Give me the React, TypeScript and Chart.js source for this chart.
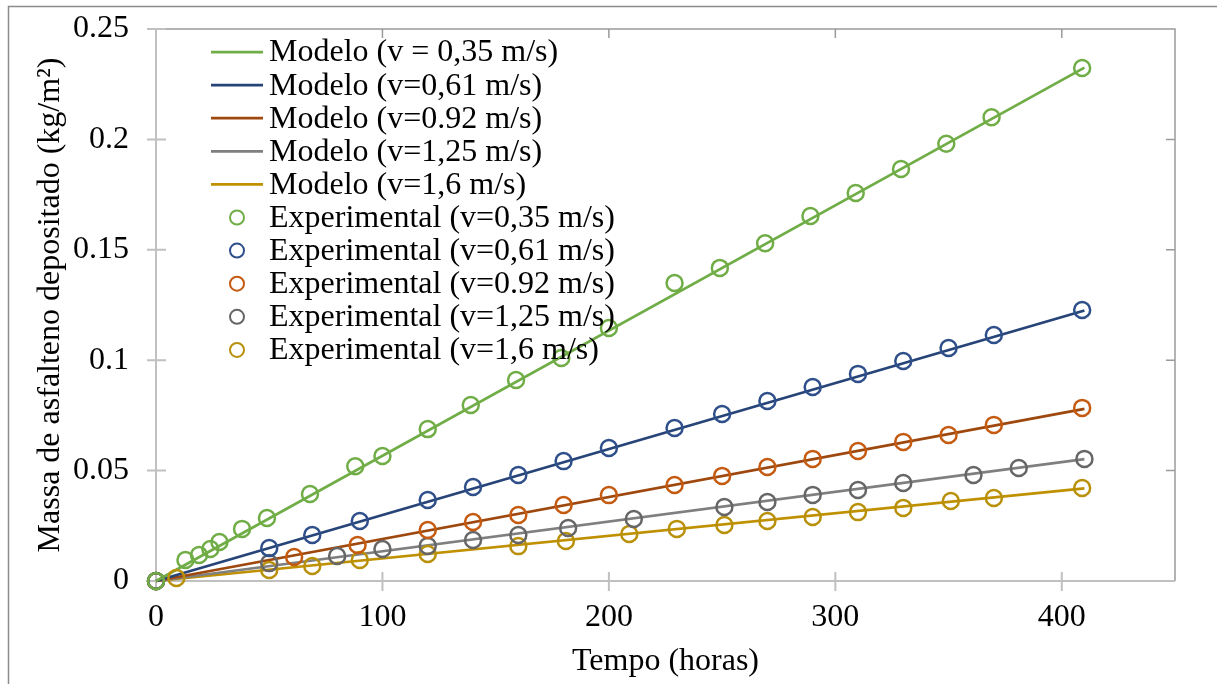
import React, { useEffect, useRef } from "react";
import { Chart, registerables } from "chart.js";

Chart.register(...registerables);

// ---- data ----
const modelX = [0, 410];
const modelGreen = [0, 0.2325];
const modelBlue = [0, 0.1225];
const modelBrown = [0, 0.078];
const modelGrey = [0, 0.0552];
const modelGold = [0, 0.042];

const expGreenX = [0, 13, 19, 24, 28, 38, 49, 68, 88, 100, 120, 139, 159, 179, 200, 229, 249, 269, 289, 309, 329, 349, 369, 409];
const expGreenY = [0, 0.0095, 0.0118, 0.0145, 0.0177, 0.0236, 0.0285, 0.0394, 0.052, 0.0566, 0.0688, 0.0797, 0.091, 0.101, 0.1146, 0.135, 0.1418, 0.153, 0.1653, 0.1757, 0.1866, 0.198, 0.21, 0.2323];

const expBlueX = [0, 50, 69, 90, 120, 140, 160, 180, 200, 229, 250, 270, 290, 310, 330, 350, 370, 409];
const expBlueY = [0, 0.0149, 0.0208, 0.0272, 0.0367, 0.0426, 0.048, 0.0543, 0.0602, 0.0693, 0.0756, 0.0815, 0.0879, 0.0938, 0.0996, 0.1055, 0.1114, 0.1227];

const expBrownX = [0, 61, 89, 120, 140, 160, 180, 200, 229, 250, 270, 290, 310, 330, 350, 370, 409];
const expBrownY = [0, 0.0109, 0.0163, 0.0231, 0.0267, 0.0299, 0.0344, 0.0389, 0.0435, 0.0476, 0.0516, 0.0553, 0.0589, 0.063, 0.0661, 0.0707, 0.0784];

const expGreyX = [0, 50, 80, 100, 120, 140, 160, 182, 211, 251, 270, 290, 310, 330, 361, 381, 410];
const expGreyY = [0, 0.0081, 0.0113, 0.0145, 0.0159, 0.0186, 0.0208, 0.024, 0.0281, 0.0335, 0.0358, 0.039, 0.0412, 0.0444, 0.048, 0.0512, 0.0553];

const expGoldX = [0, 9, 50, 69, 90, 120, 160, 181, 209, 230, 251, 270, 290, 310, 330, 351, 370, 409];
const expGoldY = [0, 0.0014, 0.005, 0.0068, 0.0095, 0.0122, 0.0158, 0.0181, 0.0213, 0.0236, 0.0254, 0.0272, 0.029, 0.0312, 0.0331, 0.0362, 0.0376, 0.0421];

const modelLabels = [
  "Modelo (v = 0,35 m/s)",
  "Modelo (v=0,61 m/s)",
  "Modelo (v=0.92 m/s)",
  "Modelo (v=1,25 m/s)",
  "Modelo (v=1,6 m/s)",
];
const expLabels = [
  "Experimental (v=0,35 m/s)",
  "Experimental (v=0,61 m/s)",
  "Experimental (v=0.92 m/s)",
  "Experimental (v=1,25 m/s)",
  "Experimental (v=1,6 m/s)",
];
const xTitle = "Tempo (horas)";
const yTitle = "Massa de asfalteno depositado (kg/m²)";

const lineColors = ["#70AD47", "#264478", "#9E480E", "#7F7F7F", "#BF9000"];
const markerColors = ["#70AD47", "#2F4F8A", "#C55A11", "#666666", "#B8900A"];

const FONT = '"Liberation Serif", "Times New Roman", serif';
const FS = 32;

const toPts = (xs: number[], ys: number[]) => xs.map((x, i) => ({ x, y: ys[i] }));

const modelSeries = [modelGreen, modelBlue, modelBrown, modelGrey, modelGold];
const expSeries: [number[], number[]][] = [
  [expGreenX, expGreenY],
  [expBlueX, expBlueY],
  [expBrownX, expBrownY],
  [expGreyX, expGreyY],
  [expGoldX, expGoldY],
];

const framePlugin = {
  id: "frameAxes",
  beforeDatasetsDraw(chart: any) {
    const { ctx, chartArea } = chart;
    const { left, right, top, bottom } = chartArea;
    const xs = chart.scales.x;
    const ys = chart.scales.y;
    ctx.save();
    // outer frame
    ctx.strokeStyle = "#8c8c8c";
    ctx.lineWidth = 1.5;
    ctx.beginPath();
    ctx.moveTo(8.5, 700);
    ctx.lineTo(8.5, 6.5);
    ctx.lineTo(1230, 6.5);
    ctx.stroke();

    // top & right borders (darker) with inward ticks
    ctx.strokeStyle = "#9a9a9a";
    ctx.lineWidth = 1.5;
    ctx.beginPath();
    ctx.moveTo(left, top);
    ctx.lineTo(right, top);
    ctx.lineTo(right, bottom);
    ctx.stroke();
    ctx.beginPath();
    xs.ticks.forEach((t: any) => {
      const px = xs.getPixelForValue(t.value);
      if (px > left + 1 && px < right - 1) {
        ctx.moveTo(px, top);
        ctx.lineTo(px, top + 9);
      }
    });
    ys.ticks.forEach((t: any) => {
      const py = ys.getPixelForValue(t.value);
      if (py > top + 1 && py < bottom - 1) {
        ctx.moveTo(right, py);
        ctx.lineTo(right - 9, py);
      }
    });
    ctx.stroke();

    // left & bottom axes (light) with cross ticks
    ctx.strokeStyle = "#c0c0c0";
    ctx.lineWidth = 2;
    ctx.beginPath();
    ctx.moveTo(left, top);
    ctx.lineTo(left, bottom);
    ctx.lineTo(right, bottom);
    ys.ticks.forEach((t: any) => {
      const py = ys.getPixelForValue(t.value);
      ctx.moveTo(left - 9, py);
      ctx.lineTo(left + 10, py);
    });
    xs.ticks.forEach((t: any) => {
      const px = xs.getPixelForValue(t.value);
      ctx.moveTo(px, bottom - 9);
      ctx.lineTo(px, bottom + 10);
    });
    ctx.stroke();

    // axis titles
    ctx.fillStyle = "#000";
    ctx.font = `${FS}px ${FONT}`;
    ctx.textAlign = "center";
    ctx.textBaseline = "middle";
    ctx.fillText(xTitle, (left + right) / 2, 662);
    ctx.translate(51, (top + bottom) / 2);
    ctx.rotate(-Math.PI / 2);
    ctx.fillText(yTitle, 0, 0);
    ctx.restore();
  },
  afterDatasetsDraw(chart: any) {
    const { ctx, chartArea } = chart;
    const x0 = chartArea.left;
    const y0 = chartArea.top + 23;
    const step = 33.1;
    ctx.save();
    ctx.font = `${FS}px ${FONT}`;
    ctx.textAlign = "left";
    ctx.textBaseline = "middle";
    chart.data.datasets.forEach((ds: any, i: number) => {
      const y = y0 + i * step;
      if (ds.showLine) {
        ctx.strokeStyle = ds.borderColor;
        ctx.lineWidth = 2.75;
        ctx.beginPath();
        ctx.moveTo(x0 + 55, y);
        ctx.lineTo(x0 + 107, y);
        ctx.stroke();
      } else {
        ctx.strokeStyle = ds.pointBorderColor;
        ctx.lineWidth = 2;
        ctx.beginPath();
        ctx.arc(x0 + 81, y, 7, 0, Math.PI * 2);
        ctx.stroke();
      }
      ctx.fillStyle = "#000";
      ctx.fillText(ds.label, x0 + 113, y + 1);
    });
    ctx.restore();
  },
};

export default function App() {
  const ref = useRef<HTMLCanvasElement | null>(null);
  useEffect(() => {
    if (!ref.current) return;
    const datasets: any[] = [];
    modelSeries.forEach((ys, i) => {
      datasets.push({
        label: modelLabels[i],
        data: toPts(modelX, ys),
        showLine: true,
        borderColor: lineColors[i],
        borderWidth: 2.75,
        pointRadius: 0,
        fill: false,
        order: 1,
        clip: false,
      });
    });
    expSeries.forEach(([xs, ys], i) => {
      datasets.push({
        label: expLabels[i],
        data: toPts(xs, ys),
        showLine: false,
        pointRadius: 8,
        pointBorderWidth: 2.5,
        pointBorderColor: markerColors[i],
        pointBackgroundColor: "rgba(0,0,0,0)",
        borderColor: markerColors[i],
        order: 0,
        clip: false,
      });
    });
    const chart = new Chart(ref.current, {
      type: "scatter",
      data: { datasets },
      options: {
        animation: false,
        responsive: false,
        devicePixelRatio: 1,
        layout: { padding: { left: 0, top: 29, right: 42, bottom: 0 } },
        plugins: { legend: { display: false }, tooltip: { enabled: false } },
        scales: {
          x: {
            type: "linear",
            min: 0,
            max: 450,
            grid: { display: false, drawTicks: false },
            border: { display: false },
            ticks: {
              stepSize: 100,
              includeBounds: false,
              color: "#000",
              padding: 17,
              font: { family: FONT, size: FS },
            },
            afterFit: (s: any) => {
              s.height = 103;
              s.paddingLeft = 0;
              s.paddingRight = 0;
            },
          },
          y: {
            type: "linear",
            min: 0,
            max: 0.25,
            grid: { display: false, drawTicks: false },
            border: { display: false },
            ticks: {
              stepSize: 0.05,
              color: "#000",
              padding: 27,
              font: { family: FONT, size: FS },
              callback: (v: any) => String(Number(Number(v).toFixed(2))),
            },
            afterFit: (s: any) => {
              s.width = 156;
              s.paddingTop = 0;
              s.paddingBottom = 0;
            },
          },
        },
      },
      plugins: [framePlugin],
    } as any);
    return () => chart.destroy();
  }, []);
  return (
    <canvas
      ref={ref}
      width={1217}
      height={684}
      style={{ position: "fixed", left: 0, top: 0, width: 1217, height: 684, background: "#fff" }}
    />
  );
}
